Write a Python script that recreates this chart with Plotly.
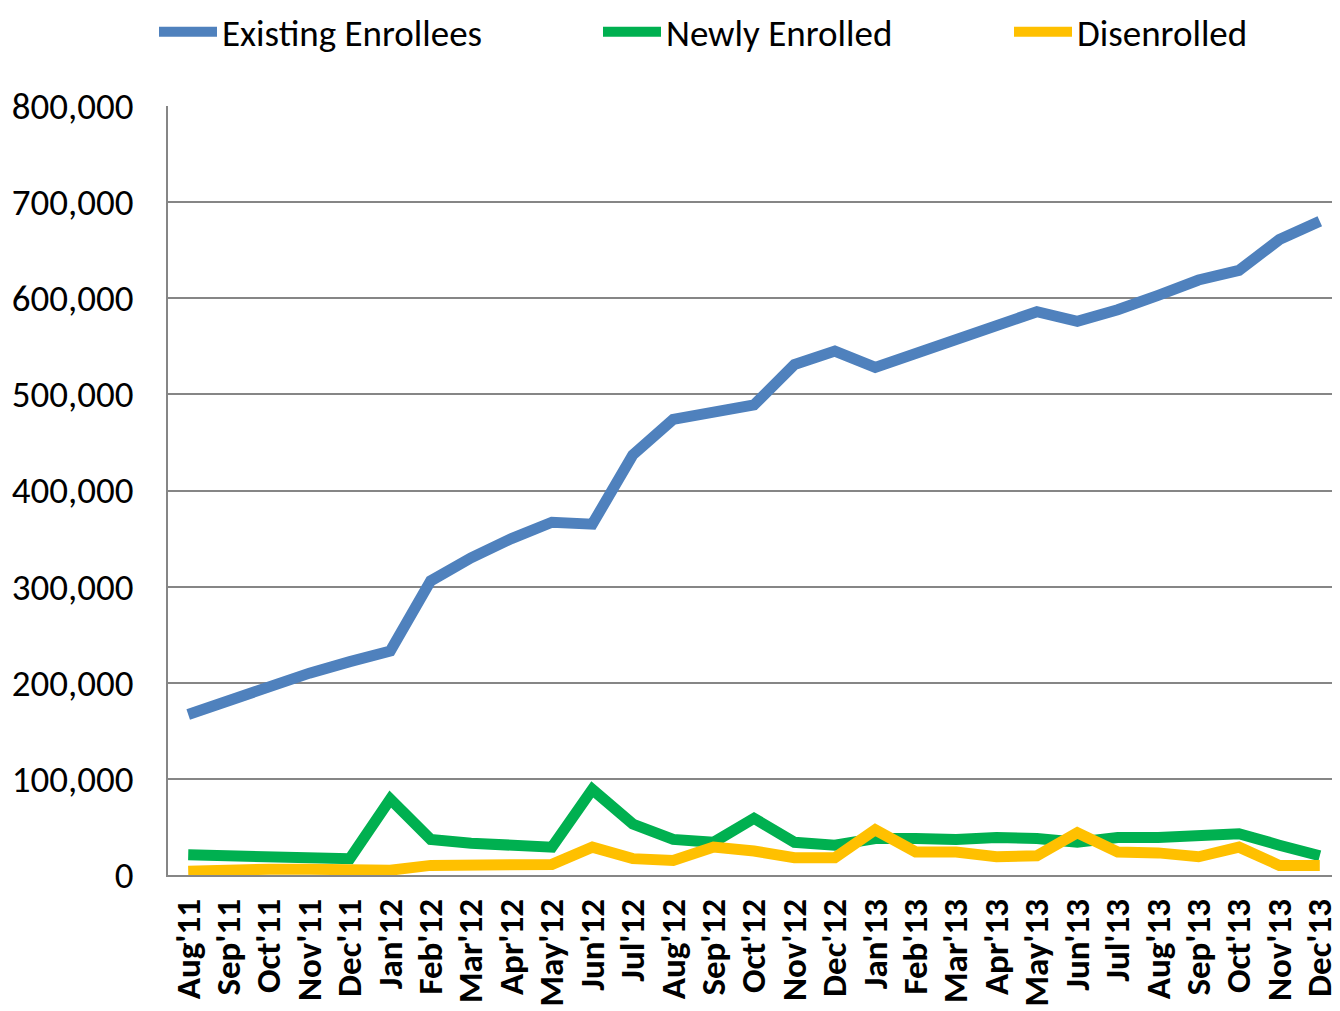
import plotly.graph_objects as go

months = ["Aug'11", "Sep'11", "Oct'11", "Nov'11", "Dec'11", "Jan'12", "Feb'12", "Mar'12",
          "Apr'12", "May'12", "Jun'12", "Jul'12", "Aug'12", "Sep'12", "Oct'12", "Nov'12",
          "Dec'12", "Jan'13", "Feb'13", "Mar'13", "Apr'13", "May'13", "Jun'13", "Jul'13",
          "Aug'13", "Sep'13", "Oct'13", "Nov'13", "Dec'13"]

existing = [167000, 182000, 197000, 210000, 222000, 233000, 306000, 330000,
            350000, 367000, 365000, 437000, 474000, 481000, 489000, 531000,
            545000, 528000, 543000, 556000, 570000, 586000, 576000, 588000,
            603000, 619000, 629000, 661000, 680000]

newly = [21000, 20000, 20000, 18000, 17000, 79000, 37000, 33000,
         30000, 29000, 89000, 53000, 37000, 34000, 59000, 34000,
         31000, 38000, 38000, 37000, 39000, 38000, 34000, 39000,
         39000, 41000, 43000, 31000, 20000]

disenrolled = [4000, 6000, 6000, 6000, 5000, 5000, 10000, 11000,
               10000, 11000, 29000, 17000, 15000, 29000, 25000, 18000,
               18000, 47000, 24000, 24000, 19000, 20000, 44000, 24000,
               23000, 19000, 29000, 10000, 10000]

FONT = "Carlito, Calibri, Lato, sans-serif"

# one legend per series so each entry sits where the original puts it
series = [("Existing Enrollees", existing, "#4F81BD", "legend", 146),
          ("Newly Enrolled", newly, "#00B050", "legend2", 590),
          ("Disenrolled", disenrolled, "#FFC000", "legend3", 1001)]

fig = go.Figure()
legends = {}
for name, vals, color, leg, lx in series:
    fig.add_trace(go.Scatter(x=months, y=vals, name=name, mode="lines", legend=leg,
                             line=dict(color=color, width=11)))
    legends[leg] = dict(orientation="h", xref="container", x=lx / 1340, xanchor="left",
                        yref="container", y=0.976, yanchor="middle",
                        font=dict(size=37), itemwidth=58, bgcolor="rgba(0,0,0,0)")

fig.update_layout(
    width=1340, height=1011,
    margin=dict(l=160, r=8, t=98, b=144, autoexpand=False),
    plot_bgcolor="white", paper_bgcolor="white",
    font=dict(family=FONT, size=37, color="black"),
    showlegend=True,
    **legends,
)
fig.update_xaxes(type="category", range=[-0.5, 28.5], tickangle=-90,
                 tickmode="array", tickvals=months, ticktext=months,
                 tickfont=dict(size=35, family=FONT, weight="bold"),
                 showgrid=False, showline=True, linecolor="#868686", linewidth=2,
                 ticks="", ticklabelstandoff=8)
fig.update_yaxes(range=[0, 800000], dtick=100000, tickformat=",",
                 tickfont=dict(size=37), showgrid=True, gridcolor="#868686",
                 gridwidth=2, showline=True, linecolor="#868686", linewidth=2,
                 zeroline=False, ticks="", ticklabelstandoff=25)

fig.write_html("out.html")
